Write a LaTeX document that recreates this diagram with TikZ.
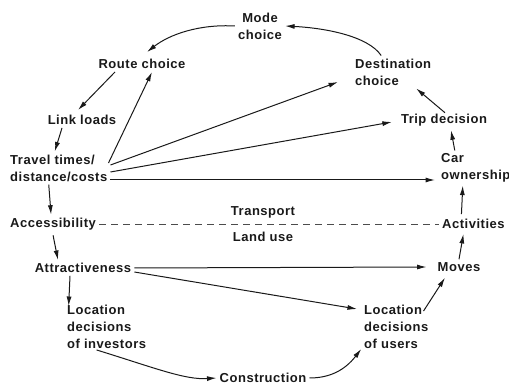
\documentclass[tikz,border=0pt]{standalone}
\usepackage{fontspec}
\setmainfont{Liberation Sans}[LetterSpace=4]
\usetikzlibrary{arrows.meta,calc}
\begin{document}
\begin{tikzpicture}[x=1pt,y=-1pt,
  lbl/.style={font=\bfseries\fontsize{13}{17}\selectfont, inner sep=3pt, text=black!90},
  lblc/.style={lbl, align=center},
  lbll/.style={lbl, align=left, anchor=west},
  link/.style={draw=black!90, line width=1pt, -{Latex[length=9.5pt,width=5pt]}},
  divide/.style={draw=black!70, line width=0.8pt, dash pattern=on 7pt off 5pt}]
\useasboundingbox (0,0) rectangle (509,390);

% transport side
\node[lblc] (mode)   at (260,26)  {Mode\\choice};
\node[lbl]  (route)  at (142,64)  {Route choice};
\node[lbll] (dest)   at (352,72)  {Destination\\choice};
\node[lbl]  (linkl)  at (82,120)  {Link loads};
\node[lbl]  (trip)   at (444,120) {Trip decision};
\node[lbll] (travel) at (7,168)   {Travel times/\\distance/costs};
\node[lbll] (car)    at (438,168) {Car\\ownership};

% boundary between the two subsystems
\node[lbll] (acc)    at (7,224)   {Accessibility};
\node[lbll] (act)    at (439,224) {Activities};
\node[lbl]  (trans)  at (263,212) {Transport};
\node[lbl]  (land)   at (263,237) {Land use};

% land-use side
\node[lbl]  (attr)   at (83,268)  {Attractiveness};
\node[lbl]  (moves)  at (459,267) {Moves};
\node[lbll] (locinv) at (64,327)  {Location\\decisions\\of investors};
\node[lbll] (locuse) at (361,327) {Location\\decisions\\of users};
\node[lbl]  (constr) at (263,378) {Construction};

\draw[divide] (acc.east) -- (act.west);

% outer cycle
\draw[link] (mode.west) .. controls (200,24) and (170,34) .. ($(route.north)+(5,-4)$);
\draw[link] ($(dest.north)+(-12,0)$) .. controls (368,36) and (325,28) .. (mode.east);
\draw[link] ($(route.south)+(-27,0)$) -- ($(linkl.north)+(-4,-2)$);
\draw[link] ($(linkl.south)+(-20,0)$) -- ($(travel.north)+(-4,0)$);
\draw[link] ($(travel.south)+(-10,0)$) -- ($(acc.north)+(-2,0)$);
\draw[link] ($(acc.south)+(0,2)$) -- ($(attr.north)+(-25,0)$);
\draw[link] ($(attr.south)+(-13,0)$) -- ($(locinv.north)+(-38,4)$);
\draw[link] ($(locinv.south)+(-10,-2)$) .. controls (155,368) and (185,380) .. (constr.west);
\draw[link] (constr.east) .. controls (330,378) and (345,370) .. ($(locuse.south)+(-35,-3)$);
\draw[link] ($(locuse.north east)+(-8,9)$) -- ($(moves.south)+(-14,3)$);
\draw[link] (moves.north) -- ($(act.south)+(-10,2)$);
\draw[link] ($(act.north)+(-12,-2)$) -- ($(car.south)+(-13,0)$);
\draw[link] ($(car.north)+(-21,0)$) -- ($(trip.south)+(7,1)$);
\draw[link] ($(trip.north)+(1,2)$) -- ($(dest.south)+(23,0)$);

% cross links
\draw[link] ($(travel.east)+(-2,-5)$) -- ($(route.south)+(10,0)$);
\draw[link] ($(travel.east)+(0,-3)$) -- ($(dest.west)+(-14,10)$);
\draw[link] ($(travel.east)+(0,4)$) -- ($(trip.west)+(-6,2)$);
\draw[link] ($(travel.east)+(0,12)$) -- ($(car.west)+(-3,12)$);
\draw[link] (attr.east) -- ($(moves.west)+(-8,0)$);
\draw[link] ($(attr.east)+(0,4)$) -- ($(locuse.west)+(-4,-18)$);
\end{tikzpicture}
\end{document}
